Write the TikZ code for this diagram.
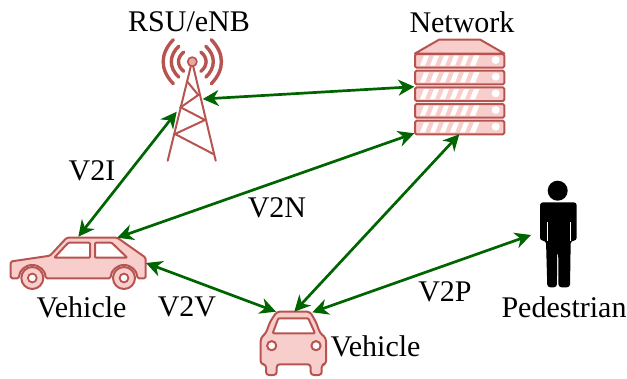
\documentclass[tikz,border=0pt]{standalone}
\usepackage{fontspec}
\setmainfont{Liberation Serif}
\usetikzlibrary{arrows.meta}
\definecolor{redfill}{HTML}{F8CECC}
\definecolor{redline}{HTML}{B85450}
\definecolor{linkgreen}{RGB}{0,100,0}
\tikzset{
  lbl/.style={inner sep=0pt,font=\fontsize{30}{32}\selectfont,text=black,anchor=center},
  link/.style={draw=linkgreen,line width=2.7pt,{Stealth[length=16pt,width=16pt,inset=5pt]}-{Stealth[length=16pt,width=16pt,inset=5pt]}},
  ico/.style={draw=redline,fill=redfill,line width=2pt,line join=round},
  win/.style={draw=redline,fill=white,line width=2pt,line join=round},
  wave/.style={draw=redline,line width=3.4pt,line cap=round},
  tower/.style={draw=redline,line width=2pt,line cap=round},
  stripe/.style={fill=white,draw=none},
}
\begin{document}
\begin{tikzpicture}[x=1pt,y=-1pt]
\useasboundingbox (0,0) rectangle (627,378);
% tower
\draw[tower] (190.7,66.7) -- (167.7,160.7) (193.3,66.7) -- (215.7,160.7);
\draw[tower] (187.3,81.7) -- (198.3,95) -- (180.7,107.3) -- (205,120) -- (175,134) -- (213.3,154);
\foreach \s in {-1,1}{
  \draw[wave] ({192.3+\s*8.6},{61.7-9.6}) .. controls ({192.3+\s*15.5},{61.7-4}) and ({192.3+\s*15.5},{61.7+4}) .. ({192.3+\s*8.6},{61.7+9.6});
  \draw[wave] ({192.3+\s*13.5},{61.7-15.5}) .. controls ({192.3+\s*23.5},{61.7-6}) and ({192.3+\s*23.5},{61.7+6}) .. ({192.3+\s*13.5},{61.7+15.5});
  \draw[wave] ({192.3+\s*19},{61.7-22}) .. controls ({192.3+\s*32.5},{61.7-8}) and ({192.3+\s*32.5},{61.7+8}) .. ({192.3+\s*19},{61.7+22});
}
\draw[ico,line width=1.6pt,fill=redfill!70!redline] (192.3,61.7) circle (4.6);
% server
\draw[ico] (415,53.5) -- (439.3,39.5) -- (480,39.5) -- (504.3,53.5) -- cycle;
\foreach \i in {0,...,4}{
  \begin{scope}[yshift={-\i*16.67pt}]
    \draw[ico,rounded corners=1.5pt] (415,54) rectangle (504.3,67.7);
    \foreach \k in {0,...,5}{
      \fill[stripe] ({420+\k*10},65.7) -- ({424+\k*10},55.7) -- ({429+\k*10},55.7) -- ({425+\k*10},65.7) -- cycle;
    }
    \fill[stripe] (470,65.7) -- (474,55.7) -- (479.3,55.7) -- (475.3,65.7) -- cycle;
    \fill[white] (495.7,60) circle (4);
  \end{scope}
}
% left car
\draw[ico,rounded corners=1.5pt] (10.7,261.5) -- (50,255.7) -- (66.7,237.7) -- (117.3,237.7) -- (145.7,257.7) -- (145.7,278.3)
  -- (137.3,278.3) arc[start angle=0,end angle=-180,radius=13.3] -- (45.6,278.3) arc[start angle=0,end angle=-180,radius=13.3] -- (10.7,278.3) -- cycle;
\draw[win,rounded corners=1pt] (54.3,257.7) -- (68.3,242.7) -- (90,242.7) -- (90,257.7) -- cycle;
\draw[win,rounded corners=1pt] (95,242.7) -- (111.7,242.7) -- (127.3,257.7) -- (95,257.7) -- cycle;
\foreach \cx in {32.3,124}{
  \draw[ico] (\cx,278) circle (11);
  \fill[white,draw=redline,line width=1.8pt] (\cx,278) circle (4.4);
}
% front car
\draw[ico,rounded corners=3pt] (276.7,311.7) -- (310,311.7) -- (316,322) -- (320,333) -- (326,338) -- (326,364.3) -- (321.7,364.3) -- (321.7,375) -- (310.7,375) -- (310.7,364.3) -- (276.7,364.3) -- (276.7,375) -- (266,375) -- (266,364.3) -- (260.7,364.3) -- (260.7,338) -- (266,333) -- (270,322) -- cycle;
\draw[win,rounded corners=1pt] (272.7,333.3) -- (278.3,318.3) -- (308.3,318.3) -- (315,333.3) -- cycle;
\draw[ico,fill=white] (271.7,345.7) circle (4.6) (316,345.7) circle (4.6);
% pedestrian
\fill[black] (557.7,190.7) circle (10);
\fill[black,rounded corners=3pt] (540,202.3) -- (576.7,202.3) -- (576.7,240.7) -- (570.7,240.7) -- (570,287.3) -- (558.5,287.3) -- (558.2,252) -- (557.2,252) -- (556.9,287.3) -- (547.3,287.3) -- (546,240.7) -- (540,240.7) -- cycle;
\draw[white,line width=0.8pt] (547.2,222) -- (547.2,241) (570.2,222) -- (570.2,241);
% labels
\node[lbl] (rsu) at (189,22) {RSU/eNB};
\node[lbl] (net) at (462,22) {Network};
\node[lbl] (vi) at (92,171) {V2I};
\node[lbl] (vn) at (277,208) {V2N};
\node[lbl] (vv) at (187,307) {V2V};
\node[lbl] (vp) at (445,292) {V2P};
\node[lbl] (veh1) at (81.5,307) {Vehicle};
\node[lbl] (veh2) at (375.5,346) {Vehicle};
\node[lbl] (ped) at (564,307) {Pedestrian};
% anchors
\coordinate (carA) at (78.3,236.7);
\coordinate (carB) at (117.3,237.7);
\coordinate (carC) at (146,263);
\coordinate (frontA) at (276,311.7);
\coordinate (frontB) at (294.3,311.7);
\coordinate (frontC) at (312.3,312.3);
\coordinate (towA) at (176.7,111.7);
\coordinate (towB) at (202.7,99);
\coordinate (srvA) at (414.3,86.7);
\coordinate (srvB) at (414.3,133.3);
\coordinate (srvC) at (459.3,134.3);
\coordinate (pedA) at (531,235);
% links
\draw[link] (carA) -- (towA);
\draw[link] (towB) -- (srvA);
\draw[link] (carB) -- (srvB);
\draw[link] (frontB) -- (srvC);
\draw[link] (carC) -- (frontA);
\draw[link] (frontC) -- (pedA);
\end{tikzpicture}
\end{document}
